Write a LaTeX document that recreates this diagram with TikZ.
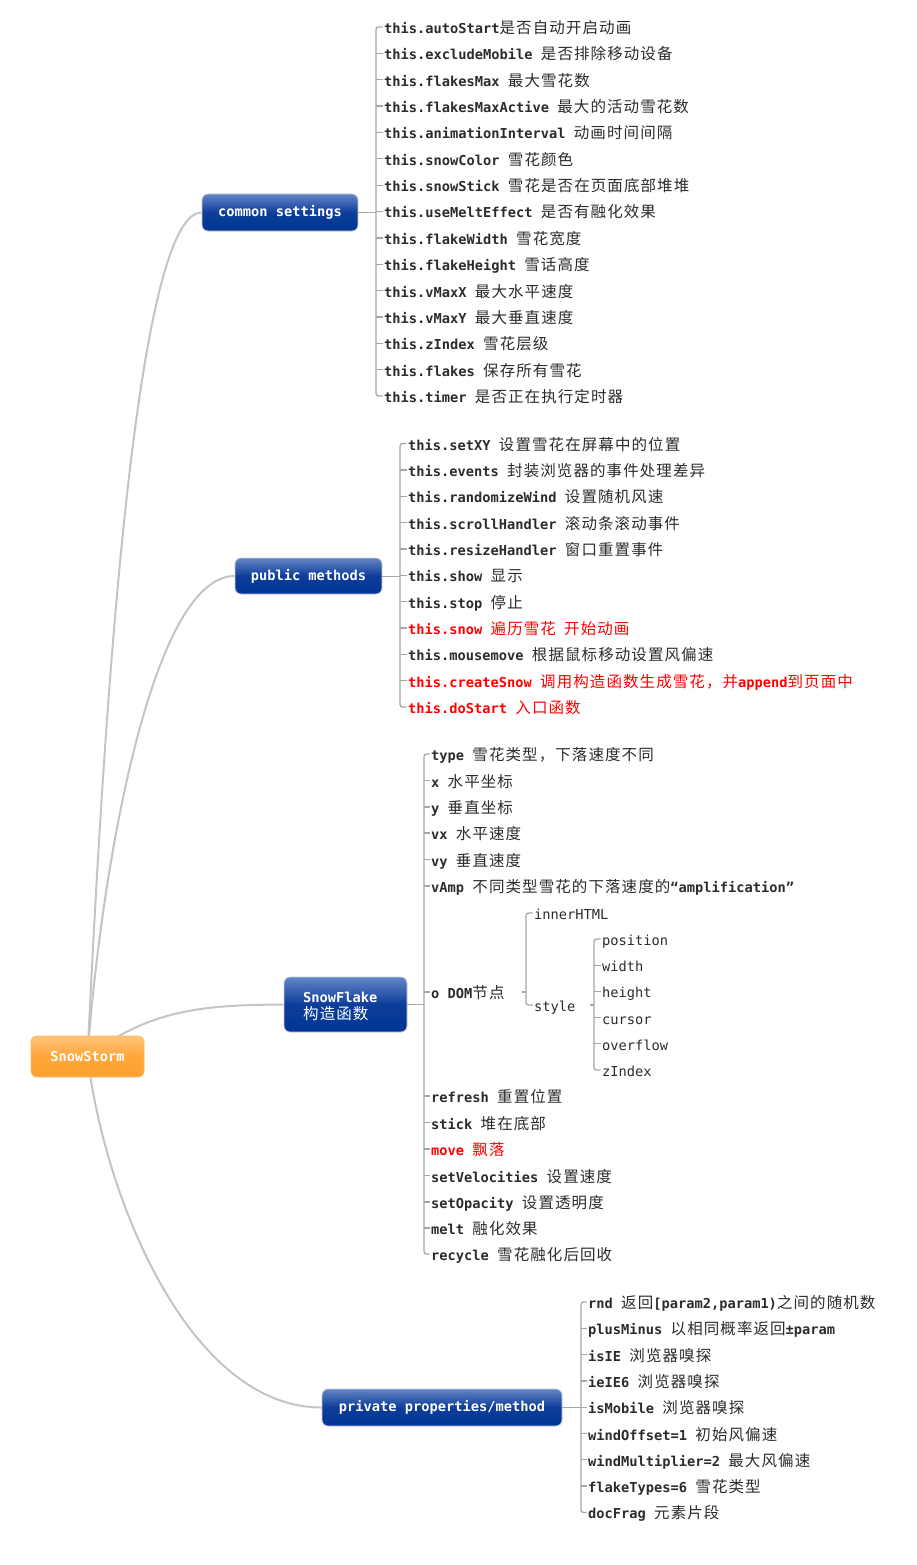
\documentclass[tikz,border=0pt]{standalone}
\usepackage{fontspec}
\setmainfont{DejaVu Sans Mono}
\newfontfamily\cjkfont{Noto Sans CJK SC}[LetterSpace=7]
\newcommand{\zhtxt}[1]{{\cjkfont\mdseries\fontsize{15.5pt}{17pt}\selectfont #1}}
\usetikzlibrary{backgrounds}
\definecolor{txt}{HTML}{2B2B2B}
\definecolor{redtxt}{HTML}{FF0000}
\definecolor{brkc}{HTML}{A6A6A6}
\definecolor{curvec}{HTML}{C4C4C4}
\definecolor{btop}{HTML}{6485C6}
\definecolor{bmid}{HTML}{0D3D99}
\definecolor{bbot}{HTML}{003594}
\definecolor{otop}{HTML}{FFC47A}
\definecolor{omid}{HTML}{FFA63A}
\definecolor{obot}{HTML}{FFA030}
\definecolor{bord}{HTML}{C5CBDB}
\definecolor{obord}{HTML}{FFB960}
\begin{document}
\begin{tikzpicture}[x=1pt,y=-1pt,
  leaf/.style={anchor=west, inner sep=0pt, text height=13pt, text depth=0pt,
    font=\fontsize{13.7pt}{16pt}\selectfont\bfseries, text=txt},
  leafred/.style={leaf, text=redtxt},
  leafreg/.style={leaf, font=\fontsize{13.7pt}{16pt}\selectfont\mdseries},
  mbox/.style={draw=bord, line width=0.8pt, rounded corners=6pt,
    top color=btop, bottom color=bbot, middle color=bmid, text=white,
    font=\fontsize{13.7pt}{17pt}\selectfont\bfseries, inner sep=0pt},
  rootbox/.style={draw=obord, line width=0.8pt, rounded corners=6pt,
    top color=otop, bottom color=obot, middle color=omid, text=white,
    font=\fontsize{13.7pt}{16pt}\selectfont\bfseries, inner sep=0pt},
  curve/.style={draw=curvec, line width=2pt},
  lnk/.style={draw=brkc, line width=1pt},
  brk/.style={draw=brkc, line width=1.3pt},
  brkend/.style={brk, rounded corners=2.5pt}
]
\useasboundingbox (0,0) rectangle (917,1565);

% ---------- main boxes ----------
\node[rootbox, minimum width=113pt, minimum height=41pt] (root) at (87.5,1056.5) {SnowStorm};
\node[mbox, minimum width=156pt, minimum height=37pt] (cs) at (280,212.5) {common settings};
\node[mbox, minimum width=147pt, minimum height=36pt] (pm) at (308.5,576) {public methods};
\node[mbox, minimum width=123pt, minimum height=55pt] (sf) at (345.5,1004.5) {};
\node[anchor=west, align=left, inner sep=0pt, text=white,
  font=\fontsize{13.7pt}{17pt}\selectfont\bfseries] (sft) at (303,1006) {SnowFlake\\\zhtxt{构造函数}};
\node[mbox, minimum width=240pt, minimum height=37pt] (pp) at (442,1407.5) {private properties/method};

% ---------- root curves ----------
\begin{scope}[on background layer]
\draw[curve] (root.center) .. controls (100,800) and (130,212.5) .. (cs.west);
\draw[curve] (root.center) .. controls (100,880) and (150,576) .. (pm.west);
\draw[curve] (root.center) .. controls (150,1010) and (200,1005) .. (sf.west);
\draw[curve] (root.center) .. controls (105,1200) and (190,1407.5) .. (pp.west);
\end{scope}

% ---------- common settings ----------
\node[leaf] (c1) at (384,27) {this.autoStart\zhtxt{是否自动开启动画}};
\node[leaf] (c2) at (384,53.4) {this.excludeMobile \zhtxt{是否排除移动设备}};
\node[leaf] (c3) at (384,79.7) {this.flakesMax \zhtxt{最大雪花数}};
\node[leaf] (c4) at (384,106.1) {this.flakesMaxActive \zhtxt{最大的活动雪花数}};
\node[leaf] (c5) at (384,132.4) {this.animationInterval \zhtxt{动画时间间隔}};
\node[leaf] (c6) at (384,158.8) {this.snowColor \zhtxt{雪花颜色}};
\node[leaf] (c7) at (384,185.2) {this.snowStick \zhtxt{雪花是否在页面底部堆堆}};
\node[leaf] (c8) at (384,211.5) {this.useMeltEffect \zhtxt{是否有融化效果}};
\node[leaf] (c9) at (384,237.9) {this.flakeWidth \zhtxt{雪花宽度}};
\node[leaf] (c10) at (384,264.2) {this.flakeHeight \zhtxt{雪话高度}};
\node[leaf] (c11) at (384,290.6) {this.vMaxX \zhtxt{最大水平速度}};
\node[leaf] (c12) at (384,317) {this.vMaxY \zhtxt{最大垂直速度}};
\node[leaf] (c13) at (384,343.3) {this.zIndex \zhtxt{雪花层级}};
\node[leaf] (c14) at (384,369.7) {this.flakes \zhtxt{保存所有雪花}};
\node[leaf] (c15) at (384,396) {this.timer \zhtxt{是否正在执行定时器}};
\coordinate (cb) at (376,27);
\draw[lnk] (cs.east) -- (cs.east -| cb);
\draw[brkend] ([xshift=-1.5pt]c1.west) -- (c1.west -| cb) -- (c15.west -| cb) -- ([xshift=-1.5pt]c15.west);
\foreach \i in {2,...,14} \draw[brk] ([xshift=-1.5pt]c\i.west) -- (c\i.west -| cb);

% ---------- public methods ----------
\node[leaf] (p1) at (408,443.5) {this.setXY \zhtxt{设置雪花在屏幕中的位置}};
\node[leaf] (p2) at (408,469.9) {this.events \zhtxt{封装浏览器的事件处理差异}};
\node[leaf] (p3) at (408,496.2) {this.randomizeWind \zhtxt{设置随机风速}};
\node[leaf] (p4) at (408,522.6) {this.scrollHandler \zhtxt{滚动条滚动事件}};
\node[leaf] (p5) at (408,548.9) {this.resizeHandler \zhtxt{窗口重置事件}};
\node[leaf] (p6) at (408,575.3) {this.show \zhtxt{显示}};
\node[leaf] (p7) at (408,601.6) {this.stop \zhtxt{停止}};
\node[leafred] (p8) at (408,628) {this.snow \zhtxt{遍历雪花}~\zhtxt{开始动画}};
\node[leaf] (p9) at (408,654.3) {this.mousemove \zhtxt{根据鼠标移动设置风偏速}};
\node[leafred] (p10) at (408,680.7) {this.createSnow \zhtxt{调用构造函数生成雪花，并}append\zhtxt{到页面中}};
\node[leafred] (p11) at (408,707) {this.doStart \zhtxt{入口函数}};
\coordinate (pb) at (400,443.5);
\draw[lnk] (pm.east) -- (pm.east -| pb);
\draw[brkend] ([xshift=-1.5pt]p1.west) -- (p1.west -| pb) -- (p11.west -| pb) -- ([xshift=-1.5pt]p11.west);
\foreach \i in {2,...,10} \draw[brk] ([xshift=-1.5pt]p\i.west) -- (p\i.west -| pb);

% ---------- SnowFlake ----------
\node[leaf] (s1) at (431,754) {type \zhtxt{雪花类型，下落速度不同}};
\node[leaf] (s2) at (431,780.5) {x \zhtxt{水平坐标}};
\node[leaf] (s3) at (431,807) {y \zhtxt{垂直坐标}};
\node[leaf] (s4) at (431,833) {vx \zhtxt{水平速度}};
\node[leaf] (s5) at (431,859.5) {vy \zhtxt{垂直速度}};
\node[leaf] (s6) at (431,886) {vAmp \zhtxt{不同类型雪花的下落速度的}“amplification”};
\node[leaf] (s7) at (431,992) {o DOM\zhtxt{节点}};
\node[leaf] (s8) at (431,1096) {refresh \zhtxt{重置位置}};
\node[leaf] (s9) at (431,1122.5) {stick \zhtxt{堆在底部}};
\node[leafred] (s10) at (431,1149) {move \zhtxt{飘落}};
\node[leaf] (s11) at (431,1175.5) {setVelocities \zhtxt{设置速度}};
\node[leaf] (s12) at (431,1202) {setOpacity \zhtxt{设置透明度}};
\node[leaf] (s13) at (431,1228) {melt \zhtxt{融化效果}};
\node[leaf] (s14) at (431,1254) {recycle \zhtxt{雪花融化后回收}};
\coordinate (sb) at (424,754);
\draw[lnk] (sf.east) -- (sf.east -| sb);
\draw[brkend] ([xshift=-1.5pt]s1.west) -- (s1.west -| sb) -- (s14.west -| sb) -- ([xshift=-1.5pt]s14.west);
\foreach \i in {2,...,13} \draw[brk] ([xshift=-1.5pt]s\i.west) -- (s\i.west -| sb);

% DOM children
\node[leafreg] (d1) at (534,913) {innerHTML};
\node[leafreg] (d2) at (534,1005) {style};
\coordinate (db) at (526,913);
\draw[brk] ([xshift=-4pt]s7.east -| db) -- (s7.east -| db);
\draw[brkend] ([xshift=-1.5pt]d1.west) -- (d1.west -| db) -- (d2.west -| db) -- ([xshift=-1.5pt]d2.west);

% style children
\node[leafreg] (y1) at (602,939) {position};
\node[leafreg] (y2) at (602,965.2) {width};
\node[leafreg] (y3) at (602,991.4) {height};
\node[leafreg] (y4) at (602,1017.6) {cursor};
\node[leafreg] (y5) at (602,1043.8) {overflow};
\node[leafreg] (y6) at (602,1070) {zIndex};
\coordinate (yb) at (594,939);
\draw[brk] ([xshift=-4pt]d2.east -| yb) -- (d2.east -| yb);
\draw[brkend] ([xshift=-1.5pt]y1.west) -- (y1.west -| yb) -- (y6.west -| yb) -- ([xshift=-1.5pt]y6.west);
\foreach \i in {2,...,5} \draw[brk] ([xshift=-1.5pt]y\i.west) -- (y\i.west -| yb);

% ---------- private ----------
\node[leaf] (v1) at (588,1302) {rnd \zhtxt{返回}[param2,param1)\zhtxt{之间的随机数}};
\node[leaf] (v2) at (588,1328.3) {plusMinus \zhtxt{以相同概率返回}±param};
\node[leaf] (v3) at (588,1354.6) {isIE \zhtxt{浏览器嗅探}};
\node[leaf] (v4) at (588,1380.9) {ieIE6 \zhtxt{浏览器嗅探}};
\node[leaf] (v5) at (588,1407.2) {isMobile \zhtxt{浏览器嗅探}};
\node[leaf] (v6) at (588,1433.5) {windOffset=1 \zhtxt{初始风偏速}};
\node[leaf] (v7) at (588,1459.8) {windMultiplier=2 \zhtxt{最大风偏速}};
\node[leaf] (v8) at (588,1486.1) {flakeTypes=6 \zhtxt{雪花类型}};
\node[leaf] (v9) at (588,1512.4) {docFrag \zhtxt{元素片段}};
\coordinate (vb) at (581,1302);
\draw[lnk] (pp.east) -- (pp.east -| vb);
\draw[brkend] ([xshift=-1.5pt]v1.west) -- (v1.west -| vb) -- (v9.west -| vb) -- ([xshift=-1.5pt]v9.west);
\foreach \i in {2,...,8} \draw[brk] ([xshift=-1.5pt]v\i.west) -- (v\i.west -| vb);
\end{tikzpicture}
\end{document}
